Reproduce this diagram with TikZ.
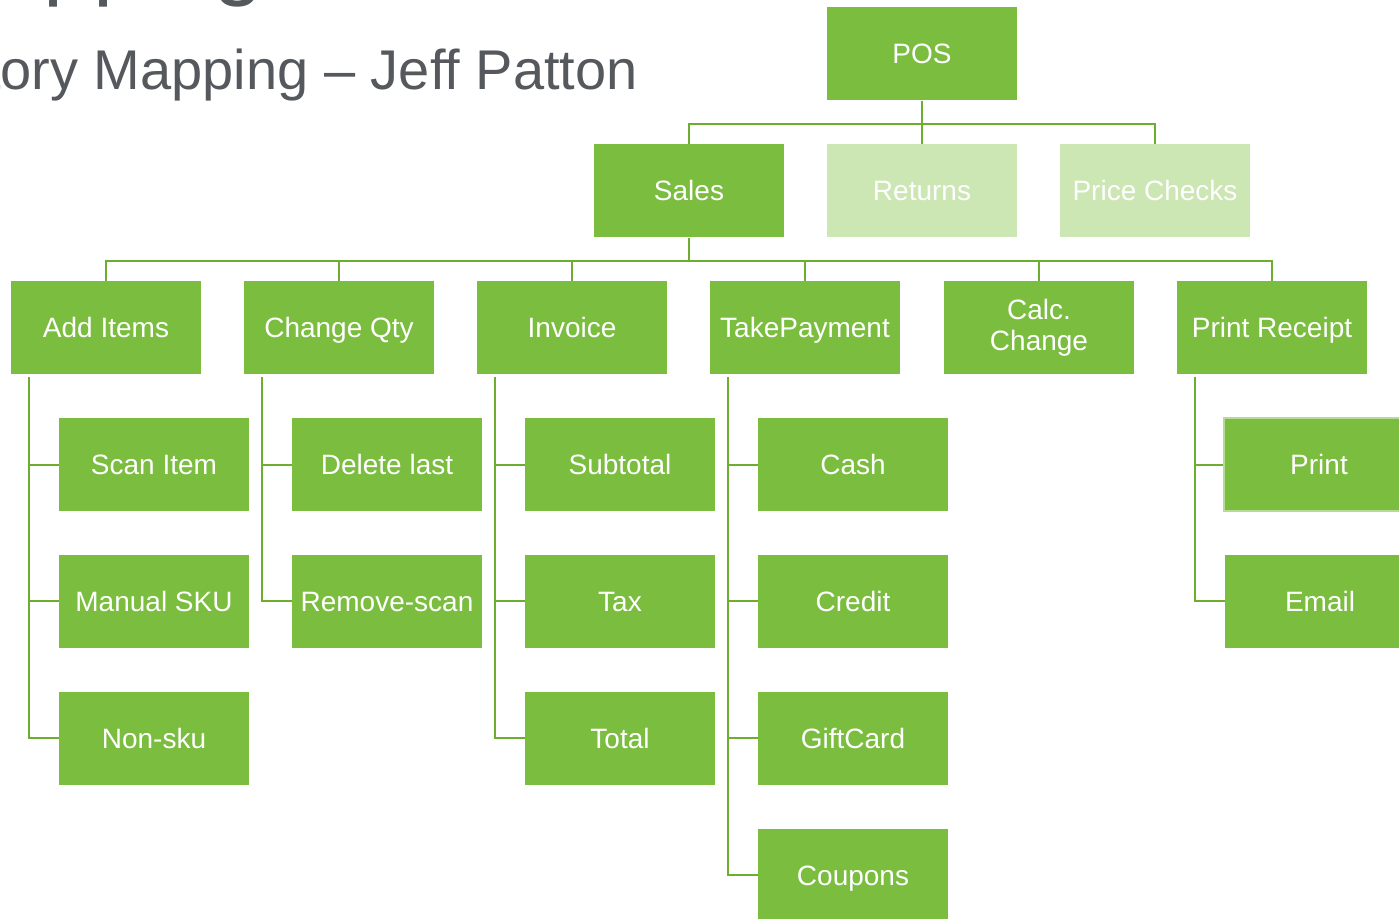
\documentclass[tikz,border=0pt]{standalone}
\usepackage{fontspec}
\setmainfont{Liberation Sans}
\usepackage{tikz}
\definecolor{boxgreen}{HTML}{7BBD3E}
\definecolor{palegreen}{HTML}{CCE6B4}
\definecolor{linegreen}{HTML}{6DAE30}
\definecolor{titlegray}{HTML}{55585C}

\begin{document}
\begin{tikzpicture}
  [x=0.75pt,y=-0.75pt,
   base node/.style={rectangle,fill=boxgreen,text=white,minimum width=142.5pt,minimum height=69.75pt,inner sep=0pt,align=center,font=\fontsize{21}{23.25}\selectfont},
   main node/.style={base node,text height=15pt,text depth=0pt},
   faded node/.style={main node,fill=palegreen},
   link/.style={draw=linegreen,line width=1.8pt}]
  \useasboundingbox (0,0) rectangle (1399,919);
  \clip (0,0) rectangle (1399,919);

  % title, cut by the frame
  \node[anchor=base east,inner sep=0pt,text=titlegray,font=\fontsize{67.5}{70}\selectfont] (title) at (264,-11) {Story Mapping};
  \node[anchor=base east,inner sep=0pt,text=titlegray,font=\fontsize{42}{46}\selectfont] (subtitle) at (638,90) {Story Mapping – Jeff Patton};

  \node[main node] (pos) at (922,54) {POS};

  \node[main node] (sales) at (689,191) {Sales};
  \node[faded node] (ret) at (922,191) {Returns};
  \node[faded node] (pc) at (1155,191) {Price Checks};

  \node[main node] (add) at (106,328) {Add Items};
  \node[main node] (chg) at (339,328) {Change Qty};
  \node[main node] (inv) at (572,328) {Invoice};
  \node[main node] (pay) at (805,328) {TakePayment};
  \node[base node] (calc) at (1039,328) {Calc.\\Change};
  \node[main node] (rcpt) at (1272,328) {Print Receipt};

  \node[main node] (scan) at (154,465) {Scan Item};
  \node[main node] (sku) at (154,601) {Manual SKU};
  \node[main node] (nosku) at (154,738) {Non-sku};

  \node[main node] (del) at (387,465) {Delete last};
  \node[main node] (rem) at (387,601) {Remove-scan};

  \node[main node] (sub) at (620,465) {Subtotal};
  \node[main node] (tax) at (620,601) {Tax};
  \node[main node] (tot) at (620,738) {Total};

  \node[main node] (cash) at (853,465) {Cash};
  \node[main node] (cred) at (853,601) {Credit};
  \node[main node] (gift) at (853,738) {GiftCard};
  \node[main node] (coup) at (853,875) {Coupons};

  \node[main node,draw=boxgreen!55!white,line width=1.5pt] (print) at (1319,465) {Print};
  \node[main node] (mail) at (1320,601) {Email};

  \draw[link] (pos.south) -- ++(0,23) -| (sales.north);
  \draw[link] (pos.south) -- (ret.north);
  \draw[link] (pos.south) -- ++(0,23) -| (pc.north);

  \draw[link] (sales.south) -- ++(0,23) -| (add.north);
  \draw[link] (sales.south) -- ++(0,23) -| (chg.north);
  \draw[link] (sales.south) -- ++(0,23) -| (inv.north);
  \draw[link] (sales.south) -- ++(0,23) -| (pay.north);
  \draw[link] (sales.south) -- ++(0,23) -| (calc.north);
  \draw[link] (sales.south) -- ++(0,23) -| (rcpt.north);

  \draw[link] (add.south west) ++(18,2) |- (scan.west);
  \draw[link] (add.south west) ++(18,2) |- (sku.west);
  \draw[link] (add.south west) ++(18,2) |- (nosku.west);

  \draw[link] (chg.south west) ++(18,2) |- (del.west);
  \draw[link] (chg.south west) ++(18,2) |- (rem.west);

  \draw[link] (inv.south west) ++(18,2) |- (sub.west);
  \draw[link] (inv.south west) ++(18,2) |- (tax.west);
  \draw[link] (inv.south west) ++(18,2) |- (tot.west);

  \draw[link] (pay.south west) ++(18,2) |- (cash.west);
  \draw[link] (pay.south west) ++(18,2) |- (cred.west);
  \draw[link] (pay.south west) ++(18,2) |- (gift.west);
  \draw[link] (pay.south west) ++(18,2) |- (coup.west);

  \draw[link] (rcpt.south west) ++(18,2) |- (print.west);
  \draw[link] (rcpt.south west) ++(18,2) |- (mail.west);
\end{tikzpicture}
\end{document}
